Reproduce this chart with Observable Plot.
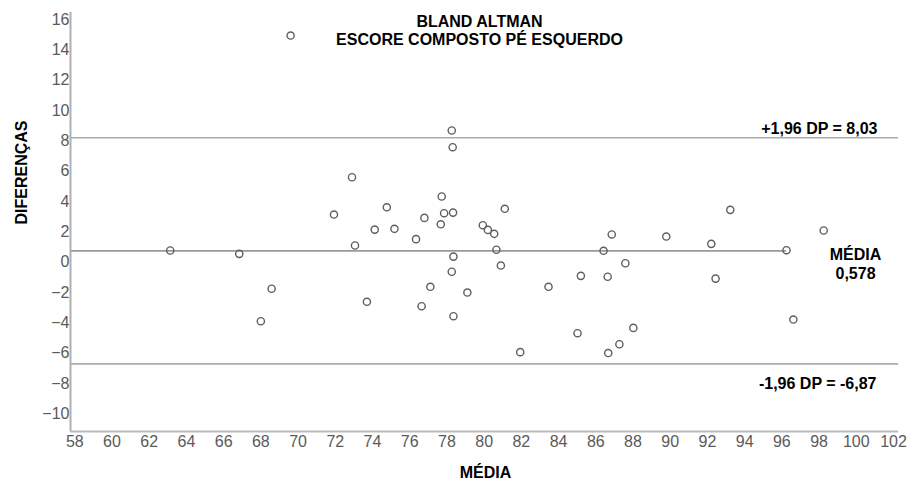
<!DOCTYPE html>
<html>
<head>
<meta charset="utf-8">
<script src="https://cdn.jsdelivr.net/npm/d3@7"></script>
<script src="https://cdn.jsdelivr.net/npm/@observablehq/plot@0.6"></script>
<style>
  html, body { margin: 0; padding: 0; background: #fff; }
  #chart svg { display: block; }
</style>
</head>
<body>
<div id="chart"></div>
<script>
// Means (x) and differences (y)
const media = [63.13, 66.84, 68.58, 68.0, 69.6, 71.93, 72.9, 73.06, 73.7, 74.12,
  74.77, 75.18, 76.34, 76.64, 76.79, 77.11, 77.67, 77.72, 77.85, 78.26,
  78.31, 78.33, 78.35, 78.26, 78.35, 79.1, 79.93, 80.2, 80.54, 80.66,
  80.9, 81.11, 81.94, 83.46, 85.02, 85.2, 86.42, 86.64, 86.67, 86.86,
  87.27, 87.59, 88.02, 89.79, 92.21, 92.44, 93.23, 96.25, 96.62, 98.25];
const diferencas = [0.60, 0.38, -1.92, -4.06, 14.77, 2.97, 5.43, 0.93, -2.78, 1.98,
  3.45, 2.03, 1.35, -3.07, 2.75, -1.79, 2.33, 4.16, 3.06, 8.51,
  7.41, 3.10, 0.20, -0.80, -3.73, -2.17, 2.27, 1.96, 1.70, 0.65,
  -0.39, 3.35, -6.10, -1.79, -4.85, -1.07, 0.58, -1.13, -6.16, 1.66,
  -5.58, -0.24, -4.50, 1.52, 1.04, -1.25, 3.28, 0.62, -3.95, 1.92];

const meanDiff = 0.578;
const upperLimit = 8.03;
const lowerLimit = -6.87;
const meanLineEnd = 96.25;

const xTicks = [58, 60, 62, 64, 66, 68, 70, 72, 74, 76, 78, 80, 82, 84, 86, 88, 90, 92, 94, 96, 98, 100, 102];
const yTicks = [-10, -8, -6, -4, -2, 0, 2, 4, 6, 8, 10, 12, 14, 16];
const xDomain = [57.77, 102.27];
const yDomain = [-11.33, 16.29];

const titleLines = ["BLAND ALTMAN", "ESCORE COMPOSTO PÉ ESQUERDO"];
const xLabel = "MÉDIA";
const yLabel = "DIFERENÇAS";
const upperText = "+1,96 DP = 8,03";
const lowerText = "-1,96 DP = -6,87";
const meanText = "MÉDIA\n0,578";

const data = media.map((m, i) => ({x: m, y: diferencas[i]}));
const font = "Arial, 'Liberation Sans', sans-serif";
const bold = {fill: "#000", fontWeight: "bold", fontSize: 16};

const chart = Plot.plot({
  width: 912,
  height: 488,
  marginLeft: 70,
  marginRight: 14,
  marginTop: 12,
  marginBottom: 57,
  style: {fontFamily: font, fontSize: "16px", color: "#5a5a5a", background: "#fff"},
  x: {domain: xDomain},
  y: {domain: yDomain},
  marks: [
    Plot.axisX({ticks: xTicks, tickSize: 0, tickPadding: 4, label: null}),
    Plot.axisY({ticks: yTicks, tickSize: 0, tickPadding: 1, dy: 2.5, label: null}),
    Plot.ruleY([upperLimit, lowerLimit], {stroke: "#aaa", strokeWidth: 1.6}),
    Plot.ruleY([meanDiff], {x1: xDomain[0], x2: meanLineEnd, stroke: "#999", strokeWidth: 1.6}),
    Plot.ruleX([xDomain[0]], {stroke: "#b0b0b0", strokeWidth: 2}),
    Plot.ruleY([yDomain[0]], {stroke: "#bcbcbc", strokeWidth: 2}),
    Plot.dot(data, {x: "x", y: "y", r: 3.6, stroke: "#5f5f5f", strokeWidth: 1.4, fill: "none"}),
    Plot.text([titleLines[0]], {frameAnchor: "top", dx: -5, dy: 3, ...bold}),
    Plot.text([titleLines[1]], {frameAnchor: "top", dx: -5, dy: 21, ...bold}),
    Plot.text([xLabel], {frameAnchor: "bottom", dx: 1, dy: 46, ...bold}),
    Plot.text([yLabel], {frameAnchor: "left", dx: -49, dy: 2.5, rotate: -90, ...bold}),
    Plot.text([{y: upperLimit, t: upperText}], {y: "y", text: "t", frameAnchor: "right", dx: -21, dy: -9, textAnchor: "end", ...bold}),
    Plot.text([{y: lowerLimit, t: lowerText}], {y: "y", text: "t", frameAnchor: "right", dx: -22, dy: 20, textAnchor: "end", ...bold}),
    Plot.text([{y: meanDiff, t: meanText}], {y: "y", text: "t", frameAnchor: "right", dx: -43, dy: 13, textAnchor: "middle", lineHeight: 1.19, ...bold})
  ]
});
document.getElementById("chart").appendChild(chart);
</script>
</body>
</html>
